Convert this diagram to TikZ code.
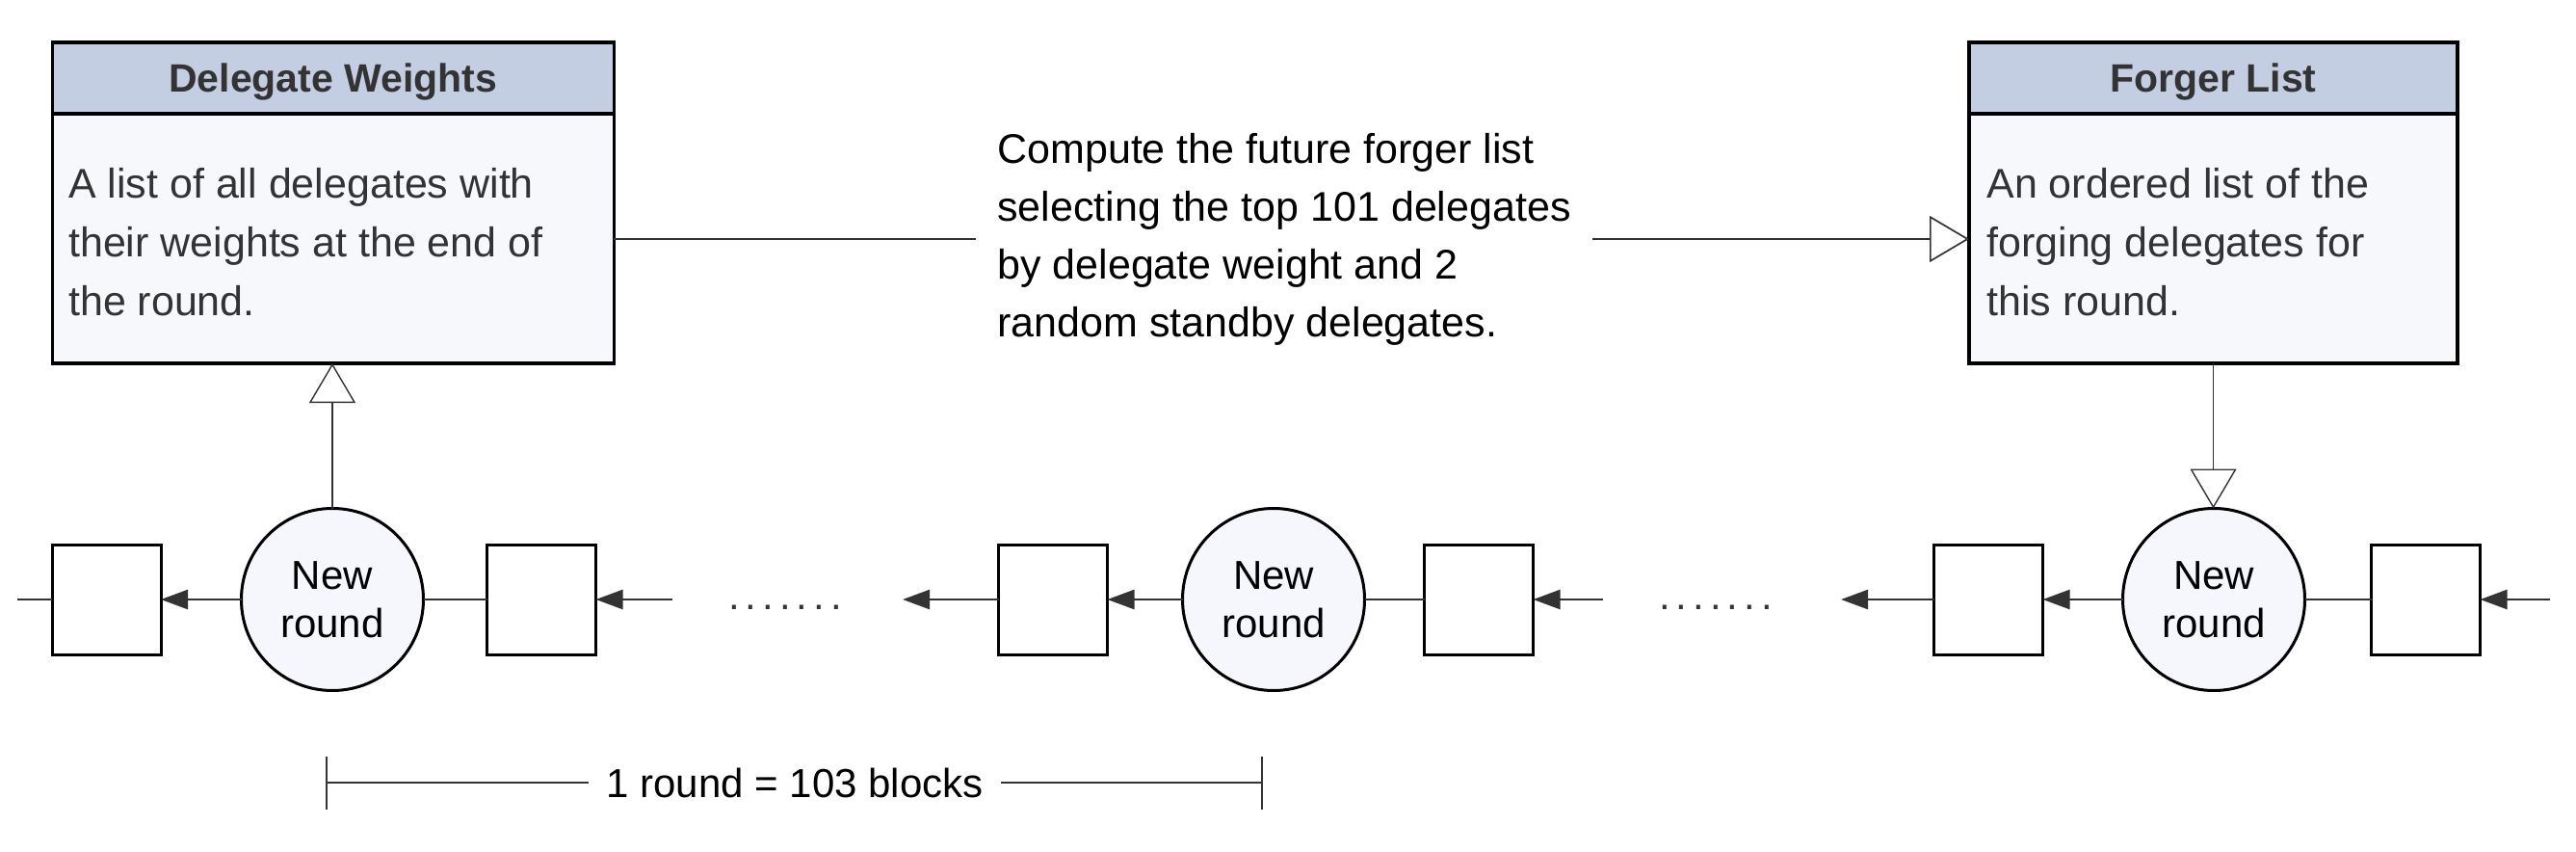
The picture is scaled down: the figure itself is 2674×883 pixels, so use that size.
\documentclass[tikz,border=0pt]{standalone}
\usepackage{fontspec}
\setmainfont{Liberation Sans}
\usetikzlibrary{arrows.meta,calc}
\definecolor{hdr}{HTML}{C4CEE2}
\definecolor{bodyc}{HTML}{F7F8FC}
\definecolor{circc}{HTML}{F5F7FC}
\definecolor{ink}{HTML}{333333}
\definecolor{edgec}{HTML}{333333}
\newcommand{\sevendots}{.\hspace{3pt}.\hspace{3pt}.\hspace{3pt}.\hspace{3pt}.\hspace{3pt}.\hspace{3pt}.}
\begin{document}
\begin{tikzpicture}[x=0.5pt,y=-0.5pt,
  boxbg/.style={rectangle, inner sep=0, outer sep=0, fill=bodyc},
  boxline/.style={draw=black, line width=1.6pt},
  titletxt/.style={font=\fontsize{20.5}{24}\selectfont\bfseries, text=ink, inner sep=0},
  bodytxt/.style={font=\fontsize{21.5}{30.5}\selectfont, text=ink, align=left, inner sep=0},
  midtxt/.style={font=\fontsize{21.5}{30}\selectfont, text=black, align=left, inner xsep=11pt, inner ysep=0},
  blk/.style={rectangle, draw=black, line width=1.5pt, fill=white, minimum width=56.5pt, minimum height=57pt, inner sep=0, outer sep=0},
  rnd/.style={circle, draw=black, line width=1.5pt, fill=circc, minimum size=94.5pt, inner sep=0, outer sep=0, align=center, font=\fontsize{21}{25}\selectfont},
  chain/.style={draw=edgec, line width=1.3pt},
  fa/.style={chain, -{Triangle[length=14pt,width=10pt]}},
  oa/.style={draw=edgec, line width=0.7pt, -{Triangle[open,length=20.5pt,width=24pt,fill=white]}},
  link/.style={draw=edgec, line width=0.85pt},
  dimline/.style={draw=edgec, line width=1pt},
  dimtxt/.style={font=\fontsize{21}{25}\selectfont, text=black, inner xsep=9pt, inner ysep=0},
  dotstxt/.style={font=\fontsize{21}{25}\selectfont, text=ink, inner sep=0}
]
\useasboundingbox (0,0) rectangle (2674,883);

% Delegate Weights box
\node[boxbg, minimum width=291.5pt, minimum height=166.5pt] (dw) at (345.75,210.5) {};
\fill[hdr] (dw.north west) rectangle ([yshift=-37pt]dw.north east);
\draw[boxline] (dw.north west) rectangle (dw.south east);
\draw[boxline] ([yshift=-37pt]dw.north west) -- ([yshift=-37pt]dw.north east);
\node[titletxt, anchor=base] (dwt) at ([yshift=-26pt]dw.north) {Delegate Weights};
\node[bodytxt, anchor=north west] (dwb) at ([xshift=8.25pt,yshift=-65pt]dw.north west)
  {A list of all delegates with\\their weights at the end of\\the round.};

% Forger List box
\node[boxbg, minimum width=253.5pt, minimum height=166.5pt] (fl) at (2297.5,210.5) {};
\fill[hdr] (fl.north west) rectangle ([yshift=-37pt]fl.north east);
\draw[boxline] (fl.north west) rectangle (fl.south east);
\draw[boxline] ([yshift=-37pt]fl.north west) -- ([yshift=-37pt]fl.north east);
\node[titletxt, anchor=base] (flt) at ([yshift=-26pt]fl.north) {Forger List};
\node[bodytxt, anchor=north west] (flb) at ([xshift=9pt,yshift=-65pt]fl.north west)
  {An ordered list of the\\forging delegates for\\this round.};

% middle text and connector
\node[midtxt, anchor=west] (mid) at (1013,248) {Compute the future forger list\\selecting the top 101 delegates\\by delegate weight and 2\\random standby delegates.};
\draw[link] (mid.west -| dw.east) -- (mid.west);
\draw[link, -{Triangle[open,length=20.5pt,width=24pt,fill=white]}] (mid.east) -- (mid.east -| fl.west);

% chain
\node[blk] (s1) at (110.5,622) {};
\node[rnd] (c1) at (345,622) {New\\round};
\node[blk] (s2) at (562,622) {};
\node[dotstxt, anchor=base] (d1) at (815,632) {\sevendots};
\node[blk] (s3) at (1093,622) {};
\node[rnd] (c2) at (1322,622) {New\\round};
\node[blk] (s4) at (1535,622) {};
\node[dotstxt, anchor=base] (d2) at (1781,632) {\sevendots};
\node[blk] (s5) at (2064,622) {};
\node[rnd] (c3) at (2298,622) {New\\round};
\node[blk] (s6) at (2518,622) {};

\coordinate (l0) at (18,622);
\coordinate (r1) at (698,622);
\coordinate (l1) at (937,622);
\coordinate (r2) at (1664,622);
\coordinate (l2) at (1911,622);
\coordinate (r3) at (2647,622);

\draw[chain] (l0) -- (s1.west);
\draw[fa] (c1.west) -- (s1.east);
\draw[chain] (c1.east) -- (s2.west);
\draw[fa] (r1) -- (s2.east);
\draw[fa] (s3.west) -- (l1);
\draw[fa] (c2.west) -- (s3.east);
\draw[chain] (c2.east) -- (s4.west);
\draw[fa] (r2) -- (s4.east);
\draw[fa] (s5.west) -- (l2);
\draw[fa] (c3.west) -- (s5.east);
\draw[chain] (c3.east) -- (s6.west);
\draw[fa] (r3) -- (s6.east);

% vertical connectors
\draw[oa] (c1.north) -- (c1.north |- dw.south);
\draw[oa] (fl.south) -- (fl.south |- c3.north);

% dimension
\coordinate (dL) at (338,812);
\coordinate (dR) at (1311,812);
\node[dimtxt] (dim) at (825,812) {1 round = 103 blocks};
\draw[dimline, {Bar[width=27.5pt]}-] (dL) -- (dim.west);
\draw[dimline, -{Bar[width=27.5pt]}] (dim.east) -- (dR);
\end{tikzpicture}
\end{document}
